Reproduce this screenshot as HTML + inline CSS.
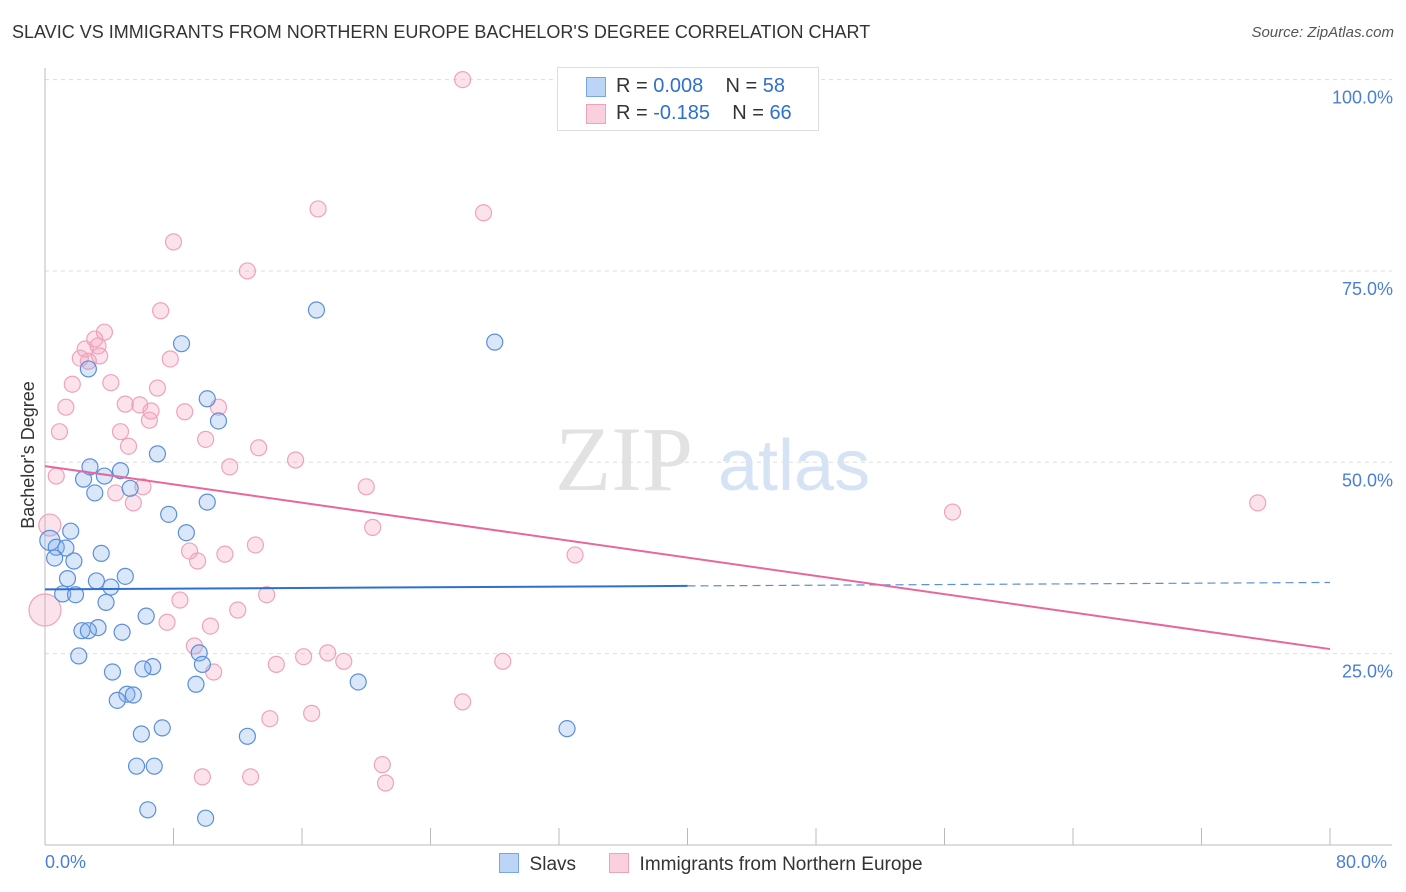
<!DOCTYPE html>
<html><head><meta charset="utf-8"><style>
body{margin:0;background:#fff;font-family:"Liberation Sans",sans-serif;}
#wrap{position:relative;width:1406px;height:892px;overflow:hidden;}
.t{position:absolute;white-space:nowrap;}
</style></head><body>
<div id="wrap">
<div class="t" style="left:12px;top:22px;font-size:18px;color:#333;">SLAVIC VS IMMIGRANTS FROM NORTHERN EUROPE BACHELOR'S DEGREE CORRELATION CHART</div>
<div class="t" style="right:12px;top:24px;font-size:15px;color:#555;font-style:italic;">Source: ZipAtlas.com</div>
<svg id="svg" width="1406" height="892" style="position:absolute;left:0;top:0"></svg>
<div class="t" style="left:-72px;top:445px;width:200px;text-align:center;font-size:18px;color:#333;transform:rotate(-90deg);transform-origin:100px 10px;">Bachelor's Degree</div>
</div>
<script>
const xTicks=[0,8,16,24,32,40,48,56,64,72,80];
const yTicks=[25,50,75,100];
const yTickLabels=["25.0%","50.0%","75.0%","100.0%"];
const slavX=[16.9,28.0,8.5,2.7,10.1,10.8,7.0,2.8,4.7,3.7,2.4,5.3,3.1,10.1,7.7,1.6,8.8,0.3,0.7,1.3,3.5,0.6,1.8,5.0,1.4,3.2,4.1,1.1,1.9,3.8,6.3,3.3,2.3,2.7,4.8,2.1,9.6,9.8,6.7,6.1,4.2,19.5,9.4,5.1,5.5,4.5,7.3,32.5,6.0,12.6,5.7,6.8,6.4,10.0];
const slavY=[69.9,65.7,65.5,62.2,58.3,55.4,51.1,49.4,48.9,48.2,47.8,46.6,46.0,44.8,43.2,41.0,40.8,39.8,38.9,38.8,38.1,37.5,37.1,35.1,34.8,34.5,33.7,32.8,32.7,31.7,29.9,28.4,28.0,28.0,27.8,24.7,25.1,23.6,23.3,23.0,22.6,21.3,21.0,19.7,19.6,18.9,15.3,15.2,14.5,14.2,10.3,10.3,4.6,3.5];
const immX=[26.0,17.0,27.3,8.0,12.6,7.2,3.7,3.1,3.3,2.5,2.2,3.4,2.7,7.8,1.7,4.1,7.0,1.3,5.0,5.9,6.6,8.7,10.8,6.5,0.9,4.7,10.0,5.2,13.3,15.6,11.5,0.7,6.1,4.4,20.0,5.5,75.5,56.5,0.3,20.4,13.1,9.0,11.2,9.5,33.0,13.8,8.4,12.0,0,7.6,10.3,9.3,17.6,16.1,18.6,28.5,14.4,10.5,26.0,16.6,14.0,21.0,9.8,12.8,21.2];
const immY=[100,83.1,82.6,78.8,75.0,69.8,67.0,66.1,65.2,64.8,63.6,63.9,63.2,63.5,60.2,60.4,59.7,57.2,57.6,57.5,56.7,56.6,57.2,55.5,54.0,54.0,53.0,52.1,51.9,50.3,49.4,48.2,46.8,46.0,46.8,44.7,44.7,43.5,41.8,41.5,39.2,38.4,38.0,37.1,37.9,32.7,32.0,30.7,30.7,29.1,28.6,26.0,25.1,24.6,24.0,24.0,23.6,22.6,18.7,17.2,16.5,10.5,8.9,8.9,8.1];
const slavTrend=[33.4,34.3];
const immTrend=[49.5,25.6];
const X=v=>45+v*(1285/80), Y=v=>845-v*7.654;
const svg=document.getElementById('svg');
function el(tag,attrs,parent){const e=document.createElementNS('http://www.w3.org/2000/svg',tag);for(const k in attrs)e.setAttribute(k,attrs[k]);(parent||svg).appendChild(e);return e;}
yTicks.forEach((t,i)=>{const g=el('line',{x1:45,x2:1392,y1:Y(t),y2:Y(t),stroke:'#ddd','stroke-dasharray':'4,4'});


const tx=el('text',{x:1393,y:Y(t)+24,'text-anchor':'end','font-size':18,fill:'#4a7fd6','font-family':'Liberation Sans'});tx.textContent=yTickLabels[i];

});
el('line',{x1:45,x2:45,y1:68,y2:845,stroke:'#bbb'});
el('line',{x1:45,x2:1392,y1:845,y2:845,stroke:'#bbb'});
xTicks.forEach(t=>{const l=el('line',{x1:X(t),x2:X(t),y1:828,y2:845,stroke:'#bbb'});

});
const w=el('text',{x:555,y:490,'font-size':92,fill:'#e2e2e2','font-family':'Liberation Serif'});w.textContent='ZIP';
const w2=el('text',{x:718,y:490,'font-size':72,fill:'#d5e3f5','font-family':'Liberation Sans'});w2.textContent='atlas';
immX.forEach((v,i)=>{const r=(v===0&&immY[i]<35)?16:(v<0.5?11:8);const c=el('circle',{cx:X(v),cy:Y(immY[i]),r:r,fill:'rgba(244,160,190,0.3)',stroke:'#eea3bd','stroke-width':1.2});

});
slavX.forEach((v,i)=>{const c=el('circle',{cx:X(v),cy:Y(slavY[i]),r:v<0.5?10:8,fill:'rgba(130,175,235,0.3)',stroke:'#5b8fdb','stroke-width':1.2});

});
const sm=40;const sMid=slavTrend[0]+(slavTrend[1]-slavTrend[0])*sm/80;
const t1=el('line',{x1:X(0),y1:Y(slavTrend[0]),x2:X(sm),y2:Y(sMid),stroke:'#2f6fd0','stroke-width':2});


const t2=el('line',{x1:X(sm),y1:Y(sMid),x2:X(80),y2:Y(slavTrend[1]),stroke:'#5b8fdb','stroke-width':1.2,'stroke-dasharray':'8,5'});


const t3=el('line',{x1:X(0),y1:Y(immTrend[0]),x2:X(80),y2:Y(immTrend[1]),stroke:'#e8679a','stroke-width':2});


</script>
<div class="t" style="left:45px;top:852px;font-size:18px;color:#4a7fd6;">0.0%</div>
<div class="t" style="left:1336px;top:852px;font-size:18px;color:#4a7fd6;">80.0%</div>
<div style="position:absolute;left:557px;top:67px;width:260px;height:62px;border:1px solid #ddd;background:#fff;font-size:20px;color:#333;">
 <div style="position:absolute;left:28px;top:9px;width:18px;height:18px;background:#bcd4f5;border:1px solid #7aa5e3;"></div>
 <div class="t" style="left:58px;top:7px;">R = <span style="color:#2f6fd0">0.008</span>&nbsp;&nbsp;&nbsp; N = <span style="color:#2f6fd0">58</span></div>
 <div style="position:absolute;left:28px;top:36px;width:18px;height:18px;background:#fbd0de;border:1px solid #eea3bd;"></div>
 <div class="t" style="left:58px;top:34px;">R = <span style="color:#2f6fd0">-0.185</span>&nbsp;&nbsp;&nbsp; N = <span style="color:#2f6fd0">66</span></div>
</div>
<div style="position:absolute;left:499px;top:853px;font-size:19px;color:#333;">
 <span style="display:inline-block;width:18px;height:18px;background:#bcd4f5;border:1px solid #7aa5e3;vertical-align:-3px;"></span>&nbsp; Slavs</div>
<div style="position:absolute;left:609px;top:853px;font-size:19px;color:#333;">
 <span style="display:inline-block;width:18px;height:18px;background:#fbd0de;border:1px solid #eea3bd;vertical-align:-3px;"></span>&nbsp; Immigrants from Northern Europe</div>
</body></html>
